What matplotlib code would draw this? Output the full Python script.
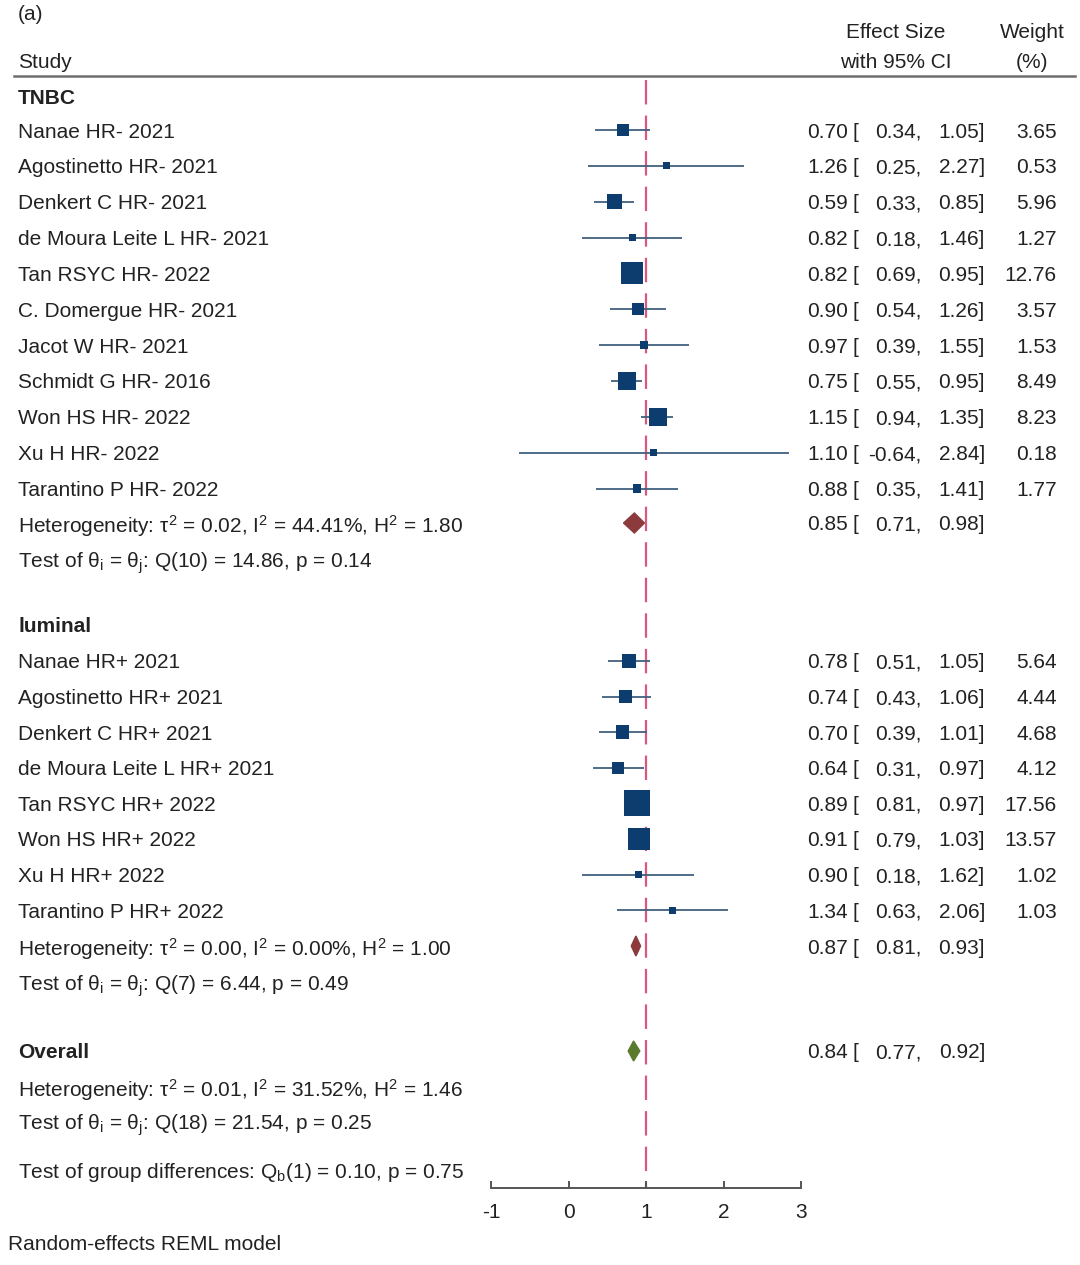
import numpy as np
import matplotlib.pyplot as plt
from matplotlib.patches import Polygon

plt.rcParams['font.family'] = ['Liberation Sans', 'DejaVu Sans']
plt.rcParams['mathtext.default'] = 'regular'
plt.rcParams['axes.unicode_minus'] = False

# data
tnbc_names = ["Nanae HR- 2021", "Agostinetto HR- 2021", "Denkert C HR- 2021",
              "de Moura Leite L HR- 2021", "Tan RSYC HR- 2022", "C. Domergue HR- 2021",
              "Jacot W HR- 2021", "Schmidt G HR- 2016", "Won HS HR- 2022",
              "Xu H HR- 2022", "Tarantino P HR- 2022"]
tnbc_est = [0.70, 1.26, 0.59, 0.82, 0.82, 0.90, 0.97, 0.75, 1.15, 1.10, 0.88]
tnbc_lo = [0.34, 0.25, 0.33, 0.18, 0.69, 0.54, 0.39, 0.55, 0.94, -0.64, 0.35]
tnbc_hi = [1.05, 2.27, 0.85, 1.46, 0.95, 1.26, 1.55, 0.95, 1.35, 2.84, 1.41]
tnbc_w = [3.65, 0.53, 5.96, 1.27, 12.76, 3.57, 1.53, 8.49, 8.23, 0.18, 1.77]

lum_names = ["Nanae HR+ 2021", "Agostinetto HR+ 2021", "Denkert C HR+ 2021",
             "de Moura Leite L HR+ 2021", "Tan RSYC HR+ 2022", "Won HS HR+ 2022",
             "Xu H HR+ 2022", "Tarantino P HR+ 2022"]
lum_est = [0.78, 0.74, 0.70, 0.64, 0.89, 0.91, 0.90, 1.34]
lum_lo = [0.51, 0.43, 0.39, 0.31, 0.81, 0.79, 0.18, 0.63]
lum_hi = [1.05, 1.06, 1.01, 0.97, 0.97, 1.03, 1.62, 2.06]
lum_w = [5.64, 4.44, 4.68, 4.12, 17.56, 13.57, 1.02, 1.03]

summ_est = [0.85, 0.87, 0.84]   # TNBC, luminal, overall
summ_lo = [0.71, 0.81, 0.77]
summ_hi = [0.98, 0.93, 0.92]

het_text = ["Heterogeneity: τ$^2$ = 0.02, I$^2$ = 44.41%, H$^2$ = 1.80",
            "Heterogeneity: τ$^2$ = 0.00, I$^2$ = 0.00%, H$^2$ = 1.00",
            "Heterogeneity: τ$^2$ = 0.01, I$^2$ = 31.52%, H$^2$ = 1.46"]
test_text = ["Test of θ$_i$ = θ$_j$: Q(10) = 14.86, p = 0.14",
             "Test of θ$_i$ = θ$_j$: Q(7) = 6.44, p = 0.49",
             "Test of θ$_i$ = θ$_j$: Q(18) = 21.54, p = 0.25"]
group_text = "Test of group differences: Q$_b$(1) = 0.10, p = 0.75"

W, H = 1080, 1265
fig = plt.figure(figsize=(W / 100, H / 100), dpi=100)
ax = fig.add_axes([0, 0, 1, 1])
px = 77.5  # pixels per unit on the effect axis
x0 = -1 - 491 / px
ax.set_xlim(x0, 3 + (W - 801) / px)
ax.set_ylim(H, 0)
ax.axis('off')
tr = ax.get_yaxis_transform()

fs = 15
tc = '#222222'
sq_col = '#0d3c6e'
ci_col = '#41607e'


def txt(x, y, s, **kw):
    kw.setdefault('fontsize', fs)
    kw.setdefault('color', tc)
    kw.setdefault('va', 'center_baseline')
    ax.text(x / W, y, s, transform=tr, **kw)


def es_cols(y, est, lo, hi, w=None):
    txt(848, y, f"{est:.2f}", ha='right')
    txt(852, y, "[", ha='left')
    txt(921, y, f"{lo:.2f},", ha='right')
    txt(985, y, f"{hi:.2f}]", ha='right')
    if w is not None:
        txt(1057, y, f"{w:.2f}", ha='right')


def study_rows(y0, step, names, est, lo, hi, w):
    ys = y0 + step * np.arange(len(names))
    for y, n, e, l, h, wt in zip(ys, names, est, lo, hi, w):
        txt(18, y, n)
        es_cols(y, e, l, h, wt)
    ax.hlines(ys, lo, hi, color=ci_col, lw=1.3, zorder=2)
    side = np.maximum(7, 6.2 * np.sqrt(w))
    ax.scatter(est, ys, s=(side * 0.72) ** 2, marker='s', color=sq_col,
               edgecolors='none', zorder=3)
    return ys


def diamond(y, est, lo, hi, color):
    hh = 10
    ax.add_patch(Polygon([[lo, y], [est, y - hh], [hi, y], [est, y + hh]],
                         closed=True, color=color, zorder=3))


# header
txt(18, 13, "(a)", fontsize=15)
txt(18, 60, "Study")
txt(896, 30, "Effect Size", ha='center')
txt(896, 60, "with 95% CI", ha='center')
txt(1032, 30, "Weight", ha='center')
txt(1032, 60, "(%)", ha='center')
ax.plot([x0 + 14 / px, x0 + 1075 / px], [76, 76], color='#6e6e6e', lw=1.8)

# TNBC
txt(18, 96, "TNBC", fontweight='bold')
study_rows(130, 35.85, tnbc_names, tnbc_est, tnbc_lo, tnbc_hi, tnbc_w)
diamond(523, summ_est[0], summ_lo[0], summ_hi[0], '#8c3a3c')
txt(18, 523, het_text[0])
es_cols(523, summ_est[0], summ_lo[0], summ_hi[0])
txt(18, 559, test_text[0])

# luminal
txt(18, 625, "luminal", fontweight='bold')
study_rows(661, 35.6, lum_names, lum_est, lum_lo, lum_hi, lum_w)
diamond(946, summ_est[1], summ_lo[1], summ_hi[1], '#8c3a3c')
txt(18, 946, het_text[1])
es_cols(946, summ_est[1], summ_lo[1], summ_hi[1])
txt(18, 982, test_text[1])

# overall
txt(18, 1051, "Overall", fontweight='bold')
diamond(1051, summ_est[2], summ_lo[2], summ_hi[2], '#5b7a2e')
es_cols(1051, summ_est[2], summ_lo[2], summ_hi[2])
txt(18, 1087, het_text[2])
txt(18, 1121, test_text[2])
txt(18, 1169, group_text)
txt(8, 1243, "Random-effects REML model")

# reference line at 1
ax.plot([1, 1], [80, 1187], color='#d9587f', lw=1.6, dashes=(11, 5), zorder=1)

# effect axis
ax2 = fig.add_axes([491 / W, (H - 1188) / H, 310 / W, 0.001])
ax2.set_xlim(-1, 3)
ax2.set_xticks([-1, 0, 1, 2, 3])
ax2.set_yticks([])
for s in ['top', 'left', 'right']:
    ax2.spines[s].set_visible(False)
ax2.spines['bottom'].set_color('#555555')
ax2.spines['bottom'].set_linewidth(1.4)
ax2.tick_params(axis='x', direction='in', length=5, width=1.4, color='#555555',
                labelsize=fs, labelcolor=tc, pad=11)
ax2.patch.set_alpha(0)

fig.savefig("out.png", dpi=100)
